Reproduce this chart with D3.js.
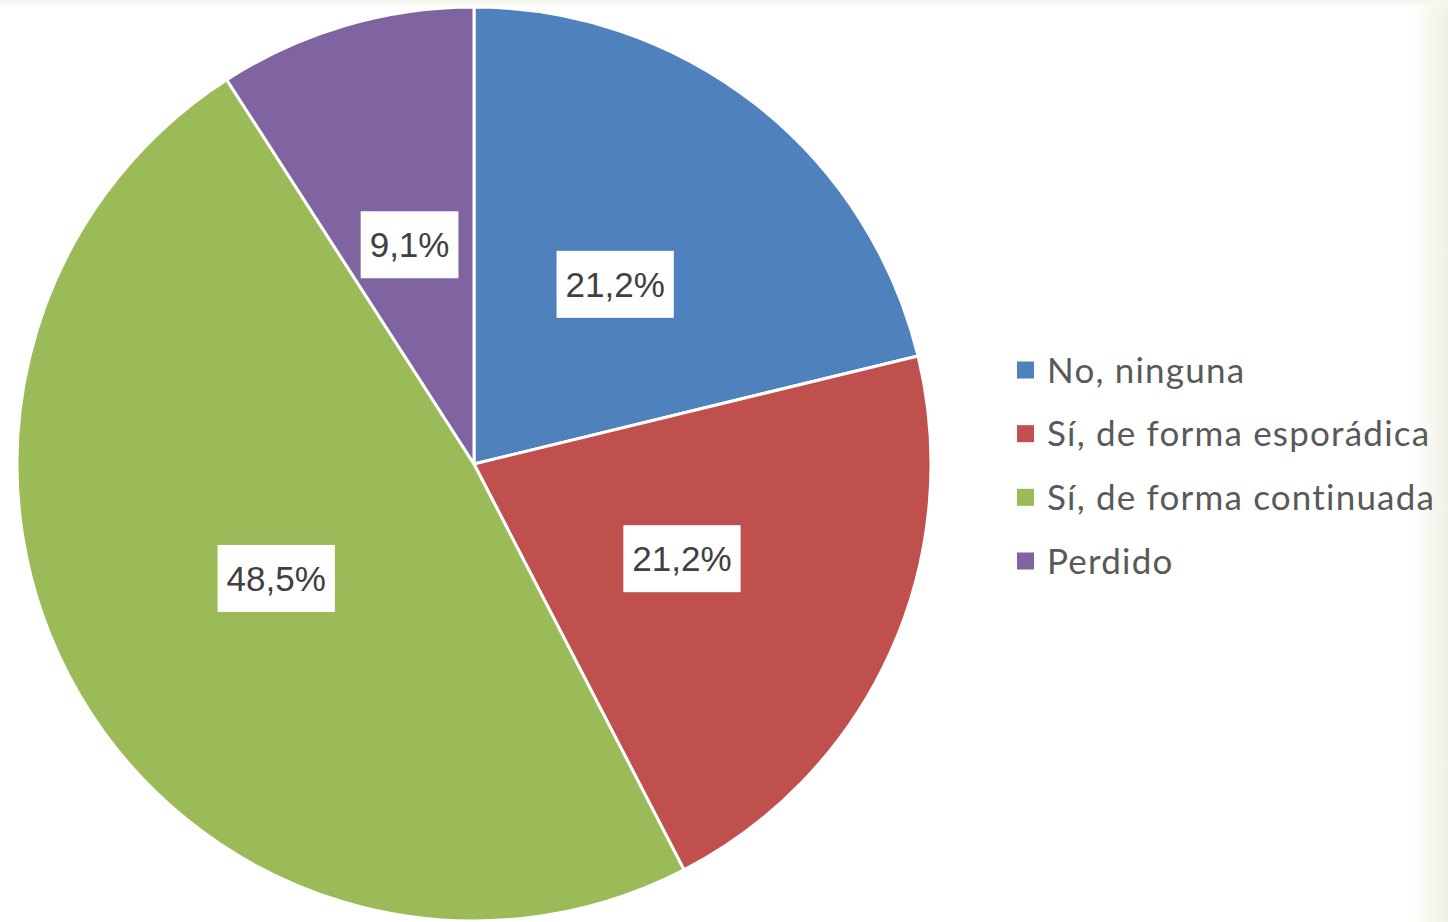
<!DOCTYPE html>
<html>
<head>
<meta charset="utf-8">
<script src="https://cdn.jsdelivr.net/npm/d3@7"></script>
<style>
html,body{margin:0;padding:0;background:#fff;}
svg{display:block;}
</style>
</head>
<body>
<svg id="chart" width="1448" height="922"></svg>
<script>
const categories = ["No, ninguna", "Sí, de forma esporádica", "Sí, de forma continuada", "Perdido"];
const values = [21.2, 21.2, 48.5, 9.1];
const labels = ["21,2%", "21,2%", "48,5%", "9,1%"];
const colors = ["#4F81BD", "#C0504D", "#9BBB59", "#8064A2"];

const svg = d3.select("#chart");
const W = 1448, H = 922;

// background with subtle cream edges
const defs = svg.append("defs");
const gr = defs.append("linearGradient").attr("id","gr").attr("x1","0").attr("x2","1").attr("y1","0").attr("y2","0");
gr.append("stop").attr("offset","0.975").attr("stop-color","#ffffff");
gr.append("stop").attr("offset","1").attr("stop-color","#eef1e2");
const gt = defs.append("linearGradient").attr("id","gt").attr("x1","0").attr("x2","0").attr("y1","0").attr("y2","1");
gt.append("stop").attr("offset","0").attr("stop-color","#f3f4ea");
gt.append("stop").attr("offset","0.012").attr("stop-color","#ffffff").attr("stop-opacity","0");
svg.append("rect").attr("width",W).attr("height",H).attr("fill","url(#gr)");
svg.append("rect").attr("width",W).attr("height",H).attr("fill","url(#gt)");

const cx = 474, cy = 464, r = 457;
const g = svg.append("g").attr("transform", `translate(${cx},${cy})`);

const data = categories.map((c,i)=>({cat:c, value:values[i], label:labels[i], color:colors[i]}));
const pie = d3.pie().value(d=>d.value).sort(null);
const arc = d3.arc().innerRadius(0).outerRadius(r);
const labelArc = d3.arc().innerRadius(r*0.5).outerRadius(r*0.5);
const arcs = pie(data);

g.selectAll("path.slice").data(arcs).join("path")
  .attr("class","slice")
  .attr("d", arc)
  .attr("fill", d=>d.data.color)
  .attr("stroke","#ffffff")
  .attr("stroke-width",3)
  .attr("stroke-linejoin","round");

const lg = g.selectAll("g.lbl").data(arcs).join("g")
  .attr("class","lbl")
  .attr("transform", d=>{const [x,y]=labelArc.centroid(d); return `translate(${x},${y})`;});

lg.each(function(d){
  const sel = d3.select(this);
  const t = sel.append("text")
    .attr("text-anchor","middle")
    .attr("dy","0.36em")
    .attr("font-family","'Liberation Sans', Arial, sans-serif")
    .attr("font-size",35)
    .attr("fill","#404040")
    .text(d.data.label);
  const bb = t.node().getBBox();
  sel.insert("rect","text")
    .attr("x", -bb.width/2 - 9)
    .attr("y", -33.5)
    .attr("width", bb.width + 18)
    .attr("height", 67)
    .attr("fill","#ffffff");
});

// legend
const legend = svg.append("g").attr("transform","translate(1017,0)");
const rowY = d3.scalePoint().domain(categories).range([370, 561]);
const items = legend.selectAll("g.item").data(data).join("g")
  .attr("class","item")
  .attr("transform", d=>`translate(0,${rowY(d.cat)})`);
items.append("rect").attr("x",0).attr("y",-8.5).attr("width",17).attr("height",17).attr("fill",d=>d.color);
items.append("text")
  .attr("x",30)
  .attr("dy","0.36em")
  .attr("font-family","Lato, 'Open Sans', sans-serif")
  .attr("font-size",35)
  .attr("letter-spacing",1.2)
  .attr("fill","#595959")
  .text(d=>d.cat);
</script>
</body>
</html>
